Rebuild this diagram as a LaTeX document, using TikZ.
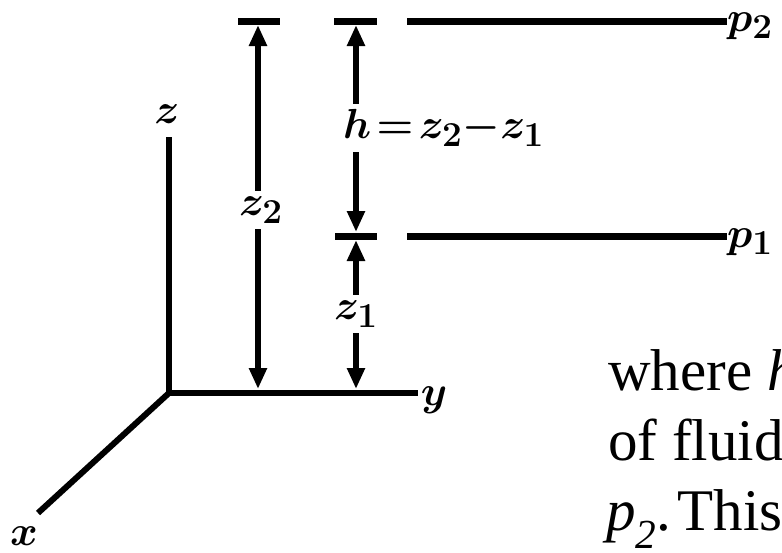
\documentclass[tikz,border=0pt]{standalone}
\usepackage{amsmath}
\usepackage{graphicx}
\usepackage{fontspec}
\setmainfont{Liberation Serif}
\usetikzlibrary{arrows.meta,positioning}

% math labels, blown up from the largest math size
\newcommand{\biglab}[1]{\scalebox{1.69}{$#1$}}

\tikzset{
  axisline/.style={line width=6pt},
  bar/.style={line width=7pt},
  dimarrow/.style={line width=6pt,
    {Triangle[length=21pt,width=17pt]}-{Triangle[length=21pt,width=17pt]},
    shorten <=4pt, shorten >=4pt},
  dimlabel/.style={fill=white,inner sep=6pt,font=\fontsize{24.88}{30}\selectfont\boldmath},
  axislabel/.style={inner sep=0pt,font=\fontsize{24.88}{30}\selectfont\boldmath},
  textline/.style={anchor=base west,inner sep=0pt,font=\fontsize{59}{70}\selectfont},
}

\begin{document}
\begin{tikzpicture}[x=1pt,y=-1pt]
\useasboundingbox (0,0) rectangle (782,552);

% axes
\coordinate (O) at (169,393);
\coordinate (ztop) at (169,137);
\coordinate (yend) at (418,393);
\coordinate (xend) at (38,513);
\draw[axisline] (ztop) -- (O) -- (yend);
\draw[axisline] (O) -- (xend);
\node[axislabel] (zlab) at (167,114) {\biglab{z}};
\node[axislabel] (ylab) at (434,400) {\biglab{y}};
\node[axislabel] (xlab) at (24,536) {\biglab{x}};

% levels
\coordinate (top1) at (258,21);
\coordinate (top2) at (356,21);
\coordinate (mid2) at (356,236);
\coordinate (foot1) at (258,393);
\coordinate (foot2) at (356,393);
\draw[bar] ([xshift=-20pt]top1) -- ([xshift=22pt]top1);
\draw[bar] ([xshift=-22pt]top2) -- ([xshift=21pt]top2);
\draw[bar] ([xshift=-21pt]mid2) -- ([xshift=21pt]mid2);

% heights
\draw[dimarrow] (top1) -- (foot1);
\node[dimlabel] (z2lab) at (261,210) {\biglab{z_2}};
\draw[dimarrow] (top2) -- (mid2);
\node[dimlabel,anchor=west] (hlab) at (337,128) {\biglab{h\mskip2mu{=}\mskip2mu z_2{-}z_1}};
\draw[dimarrow] (mid2) -- (foot2);
\node[dimlabel] (z1lab) at (356,314) {\biglab{z_1}};

% pressures
\coordinate (p2start) at (407,21);
\coordinate (p1start) at (407,236);
\node[axislabel,anchor=west] (p2lab) at (727,26) {\biglab{p_2}};
\node[axislabel,anchor=west] (p1lab) at (727,242) {\biglab{p_1}};
\draw[bar] (p2start) -- (p2start -| p2lab.west);
\draw[bar] (p1start) -- (p1start -| p1lab.west);

% text
\node[textline] (line1) at (608,390) {where \textit{h}};
\node[textline] (line2) at (608,460) {of fluid};
\node[textline] (line3) at (606,530) {\textit{p}\textsubscript{\textit{2}}.\hspace{6pt}This};
\end{tikzpicture}
\end{document}
